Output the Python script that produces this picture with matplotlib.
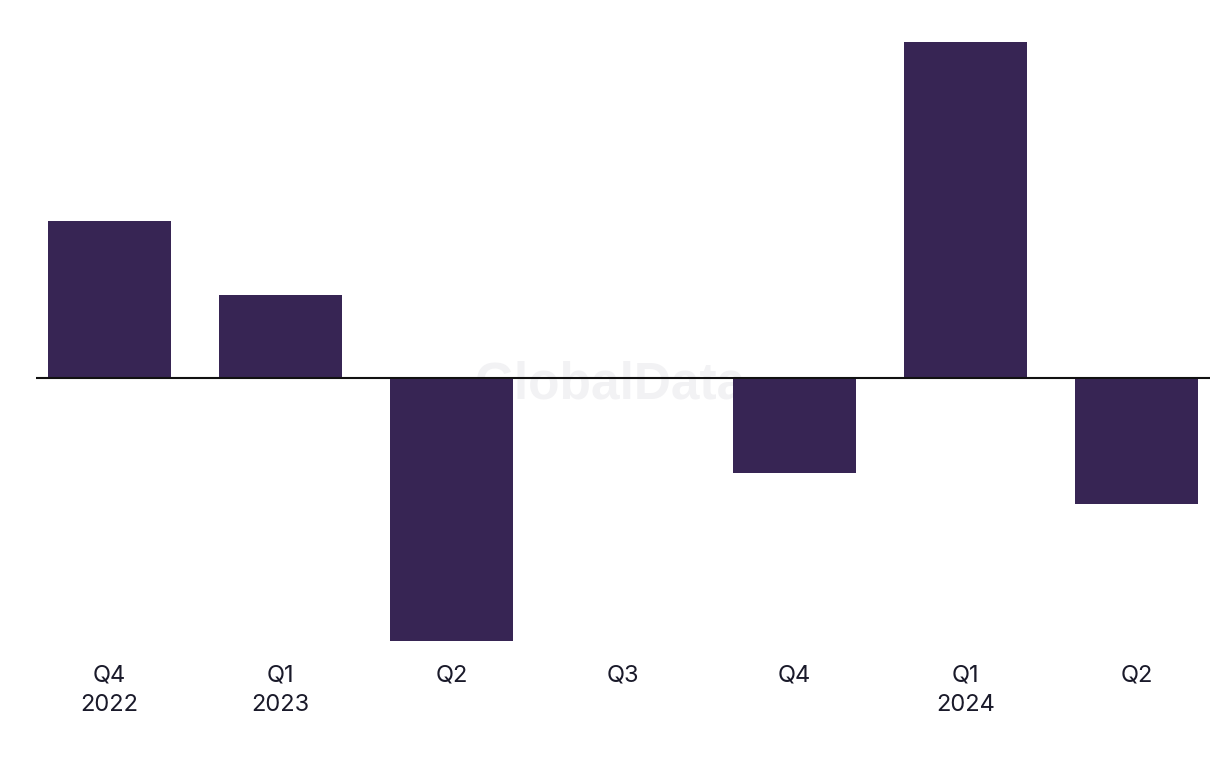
import numpy as np
import matplotlib.pyplot as plt

# quarterly change (no axis given, units arbitrary)
quarters = ['Q4\n2022', 'Q1\n2023', 'Q2', 'Q3', 'Q4', 'Q1\n2024', 'Q2']
values = [15.7, 8.3, -26.3, 0.0, -9.5, 33.6, -12.6]

bar_color = '#372554'
text_color = '#1a1a2a'

plt.rcParams['font.family'] = ['Inter', 'DejaVu Sans']

fig = plt.figure(figsize=(12.2, 7.68), dpi=100)
ax = fig.add_axes([36/1220, (768-641)/768, 1174/1220, 599/768])

x = np.arange(len(quarters))
ax.bar(x, values, width=0.717, color=bar_color, zorder=2)
ax.axhline(0, color='#111111', lw=1.5, zorder=3)

ax.set_xlim(-0.4286, len(quarters) - 1 + 0.4286)
ax.set_ylim(min(values), max(values))

ax.set_xticks(x)
ax.set_xticklabels(quarters, fontsize=17, color=text_color, linespacing=1.45)
ax.tick_params(axis='x', length=0, pad=17)
ax.set_yticks([])
for s in ax.spines.values():
    s.set_visible(False)

# faint watermark behind the bars
ax.text(0.489, 0.427, 'GlobalData', transform=ax.transAxes, ha='center', va='center',
        fontsize=37, fontweight='bold', color='#f2f2f4', zorder=1,
        family=['Liberation Sans', 'DejaVu Sans'])

fig.savefig('out.png', dpi=100)
